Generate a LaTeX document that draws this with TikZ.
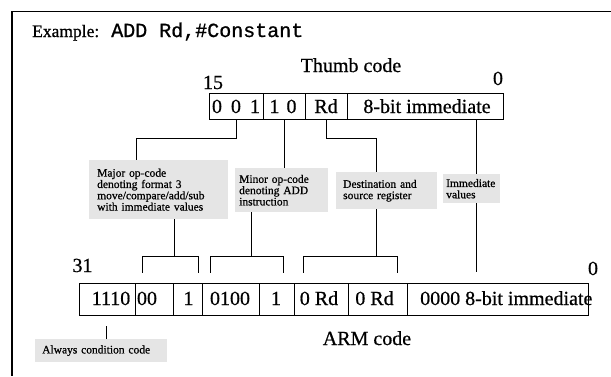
\documentclass[tikz,border=0pt]{standalone}
\usepackage{fontspec}
\setmainfont{Liberation Serif}[FakeBold=0.7]
\setmonofont{Liberation Mono}[FakeBold=0.9]
\begin{document}
\begin{tikzpicture}[x=1pt,y=-1pt,
  cell/.style={draw,line width=0.9pt,inner sep=0pt},
  big/.style={font=\fontsize{20}{22}\selectfont,inner sep=0pt,anchor=base},
  note/.style={fill=gray!20,inner ysep=0pt,align=left,anchor=north west,font=\fontsize{11.5}{11.3}\selectfont},
  conn/.style={line width=0.9pt}]
\useasboundingbox (0,0) rectangle (611,376);
% frame (top and left edges visible)
\coordinate (frTR) at (611,11.5);
\coordinate (frTL) at (12,11.5);
\coordinate (frBL) at (12,376);
\draw[line width=1.5pt] (frTR) -- (frTL) -- (frBL);
% title
\node[anchor=base west,inner sep=0pt,font=\fontsize{17.5}{20}\selectfont] (title) at (32,37)
  {Example:\texttt{\fontsize{20}{22}\selectfont{} ADD Rd,\#Constant}};
% Thumb code
\node[big] (thumb) at (351,72) {Thumb code};
\node[big] (n15) at (213,89) {15};
\node[big] (n0t) at (498,85) {0};
\node[cell,minimum width=54pt,minimum height=26pt] (t1) at (236,106) {};
\node[cell,minimum width=42pt,minimum height=26pt] (t2) at (284,106) {};
\node[cell,minimum width=42pt,minimum height=26pt] (t3) at (326,106) {};
\node[cell,minimum width=156pt,minimum height=26pt] (t4) at (425,106) {};
\node[big] (t1t) at (236,113) {0\hspace{0.2em} 0\hspace{0.2em} 1};
\node[big] (t2t) at (283,113) {1\hspace{0.1em} 0};
\node[big] (t3t) at (326,113) {Rd};
\node[big] (t4t) at (427,113) {8-bit immediate};
% notes
\node[note,minimum width=139pt,text width=123pt,inner xsep=8pt,minimum height=59pt] (major) at (89,160)
  {Major op-code\\denoting format 3\\move/compare/add/sub\\with immediate values};
\node[note,minimum width=93pt,text width=85pt,inner xsep=4pt,minimum height=44pt] (minor) at (235,168)
  {Minor op-code\\denoting ADD\\instruction};
\node[note,minimum width=101pt,text width=87pt,inner xsep=7pt,minimum height=37pt] (dest) at (336,172)
  {Destination and\\source register};
\node[note,minimum width=57pt,text width=51pt,inner xsep=3pt,minimum height=29pt] (immed) at (443,174)
  {Immediate\\values};
\node[note,minimum width=132pt,text width=118pt,inner xsep=7pt,minimum height=23pt] (always) at (35,339)
  {Always condition code};
% ARM code
\node[big] (n31) at (82.5,272) {31};
\node[big] (n0a) at (593,275) {0};
\node[cell,minimum width=56pt,minimum height=32pt] (a1) at (107,299) {};
\node[cell,minimum width=38pt,minimum height=32pt] (a2) at (154,299) {};
\node[cell,minimum width=29pt,minimum height=32pt] (a3) at (187.5,299) {};
\node[cell,minimum width=57pt,minimum height=32pt] (a4) at (230.5,299) {};
\node[cell,minimum width=35pt,minimum height=32pt] (a5) at (276.5,299) {};
\node[cell,minimum width=54pt,minimum height=32pt] (a6) at (321,299) {};
\node[cell,minimum width=59pt,minimum height=32pt] (a7) at (377.5,299) {};
\node[cell,minimum width=181pt,minimum height=32pt] (a8) at (497.5,299) {};
\node[big] (a1t) at (111,305) {1110};
\node[big] (a2t) at (147,305) {00};
\node[big] (a3t) at (188.5,305) {1};
\node[big] (a4t) at (230,305) {0100};
\node[big] (a5t) at (276,305) {1};
\node[big] (a6t) at (319,305) {0 Rd};
\node[big] (a7t) at (374.5,305) {0 Rd};
\node[big,anchor=base west] (a8t) at (420,305) {0000 8-bit immediate};
\node[big] (arm) at (367,345) {ARM code};
% connectors thumb -> notes
\draw[conn] (t1.south) -- ++(0,19) -| ([xshift=47pt]major.north west);
\draw[conn] (t2.south) -- (t2.south |- minor.north);
\draw[conn] (t3.south) -- ++(0,19) -| ([xshift=40pt]dest.north west);
\coordinate (imtop) at ([xshift=33pt]immed.north west);
\draw[conn] (t4.south -| imtop) -- (imtop);
% brackets to ARM fields
\coordinate (b1l) at ([xshift=8pt,yshift=10pt]a2.north west);
\coordinate (b1r) at ([xshift=-4pt,yshift=10pt]a3.north east);
\coordinate (b2l) at ([xshift=9pt,yshift=10pt]a4.north west);
\coordinate (b2r) at ([xshift=-11pt,yshift=10pt]a5.north east);
\coordinate (b3l) at ([xshift=10pt,yshift=10pt]a6.north west);
\coordinate (b3r) at ([xshift=-10pt,yshift=10pt]a7.north east);
\draw[conn] (b1l) -- ++(0,-16) -| (b1r);
\draw[conn] (b2l) -- ++(0,-16) -| (b2r);
\draw[conn] (b3l) -- ++(0,-16) -| (b3r);
\draw[conn] ([xshift=85pt]major.south west) -- ++(0,38);
\draw[conn] ([xshift=16pt]minor.south west) -- ++(0,45);
\draw[conn] ([xshift=40pt]dest.south west) -- ++(0,48);
\draw[conn] ([xshift=33pt]immed.south west) -- ++(0,69);
\draw[conn] ([xshift=71pt]always.north west) -- ++(0,-13);
\end{tikzpicture}
\end{document}
